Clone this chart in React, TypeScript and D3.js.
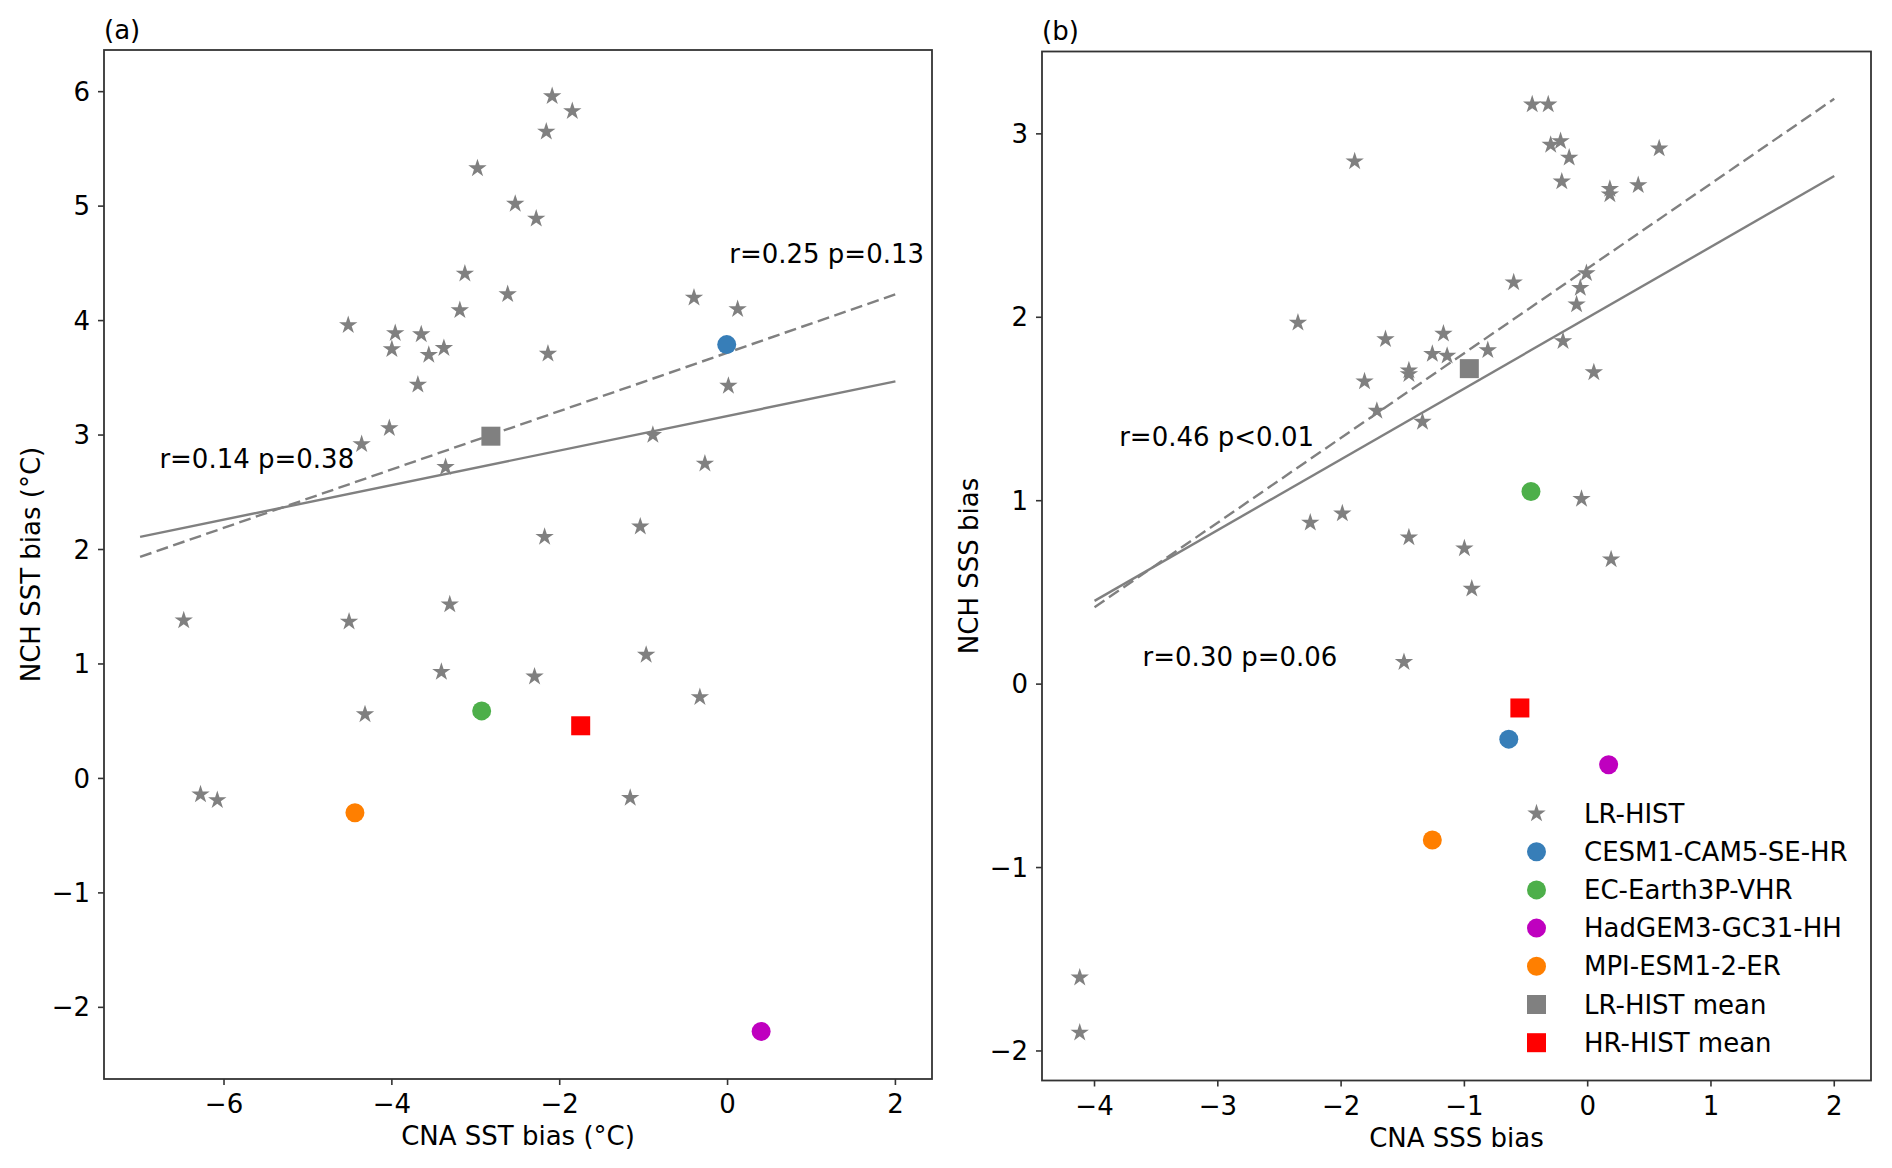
import React from 'react';
import * as d3 from 'd3';

// LR-HIST members, panel (a): CNA SST bias vs NCH SST bias
const sstLrX = [-2.09, -1.85, -2.16, -2.98, -2.53, -2.28, -3.13, -2.62, -3.19, -0.40, 0.12, -4.52, -3.96, -3.65, -4.00, -3.56, -3.38, -2.14, -3.69, 0.01, -4.03, -4.36, -0.89, -3.36, -0.27, -2.18, -1.04, -6.48, -4.51, -3.31, -3.41, -2.30, -0.97, -4.32, -0.33, -6.28, -6.08, -1.16];
const sstLrY = [5.96, 5.83, 5.65, 5.33, 5.02, 4.89, 4.41, 4.23, 4.09, 4.20, 4.10, 3.96, 3.89, 3.88, 3.75, 3.70, 3.76, 3.71, 3.44, 3.43, 3.06, 2.92, 3.00, 2.72, 2.75, 2.11, 2.20, 1.38, 1.37, 1.52, 0.93, 0.89, 1.08, 0.56, 0.71, -0.14, -0.19, -0.17];

// LR-HIST members, panel (b): CNA SSS bias vs NCH SSS bias
const sssLrX = [-0.45, -0.32, -1.89, -0.30, -0.22, -0.15, -0.21, 0.58, 0.18, 0.18, 0.41, -0.60, -0.01, -0.06, -0.09, -2.35, -0.20, -1.64, -1.17, -1.26, -1.14, -0.81, -1.45, -1.45, -1.81, 0.05, -1.71, -1.34, -2.25, -1.99, -1.45, -1.00, -0.94, -0.05, 0.19, -1.49, -4.12, -4.12];
const sssLrY = [3.16, 3.16, 2.85, 2.94, 2.96, 2.87, 2.74, 2.92, 2.70, 2.67, 2.72, 2.19, 2.24, 2.16, 2.07, 1.97, 1.87, 1.88, 1.91, 1.80, 1.79, 1.82, 1.71, 1.69, 1.65, 1.70, 1.49, 1.43, 0.88, 0.93, 0.80, 0.74, 0.52, 1.01, 0.68, 0.12, -1.60, -1.90];

// HR-HIST models
const hrModels = ["CESM1-CAM5-SE-HR", "EC-Earth3P-VHR", "HadGEM3-GC31-HH", "MPI-ESM1-2-ER"];
const hrColors = ["#377eb8", "#4daf4a", "#bf00bf", "#ff7f00"];
const sstHrX = [-0.01, -2.93, 0.40, -4.44];
const sstHrY = [3.79, 0.59, -2.21, -0.30];
const sssHrX = [-0.64, -0.46, 0.17, -1.26];
const sssHrY = [-0.30, 1.05, -0.44, -0.85];

// ensemble means [x, y]
const sstLrMean = [-2.82, 2.99];
const sstHrMean = [-1.75, 0.46];
const sssLrMean = [-0.96, 1.72];
const sssHrMean = [-0.55, -0.13];

// regression fits [intercept, slope]
const sstFitSolid = [3.167, 0.151];
const sstFitDashed = [3.72, 0.255];
const sstFitRange = [-7, 2];
const sssFitSolid = [1.998, 0.386];
const sssFitDashed = [2.267, 0.462];
const sssFitRange = [-4, 2];

// correlation notes
const sstNotes = ["r=0.14 p=0.38", "r=0.25 p=0.13"];
const sstNoteX = [-6.77, 0.02];
const sstNoteY = [2.71, 4.5];
const sssNotes = ["r=0.46 p<0.01", "r=0.30 p=0.06"];
const sssNoteX = [-3.8, -3.61];
const sssNoteY = [1.3, 0.1];

const sstXTicks = [-6, -4, -2, 0, 2];
const sstYTicks = [-2, -1, 0, 1, 2, 3, 4, 5, 6];
const sssXTicks = [-4, -3, -2, -1, 0, 1, 2];
const sssYTicks = [-2, -1, 0, 1, 2, 3];

const legendLabels = ["LR-HIST", ...hrModels, "LR-HIST mean", "HR-HIST mean"];

const FONT = "'DejaVu Sans', sans-serif";
const FS = 26;
const GREY = "#808080";
const starPath = d3.symbol(d3.symbolStar, 105)();
const fmt = d3.format("d");

type PanelProps = {
  box: { left: number; top: number; right: number; bottom: number };
  xDomain: number[];
  yDomain: number[];
  xTicks: number[];
  yTicks: number[];
  lrX: number[];
  lrY: number[];
  hrX: number[];
  hrY: number[];
  lrMean: number[];
  hrMean: number[];
  fitSolid: number[];
  fitDashed: number[];
  fitRange: number[];
  notes: string[];
  noteX: number[];
  noteY: number[];
  title: string;
  xLabel: string;
  yLabel: string;
  legend?: boolean;
};

const Marker = ({ kind, color, x, y }: { kind: string; color: string; x: number; y: number }) => {
  if (kind === "star") return <path d={starPath!} transform={`translate(${x},${y})`} fill={GREY} />;
  if (kind === "square") return <rect x={x - 9.5} y={y - 9.5} width={19} height={19} fill={color} />;
  return <circle cx={x} cy={y} r={9.5} fill={color} />;
};

const Panel = (p: PanelProps) => {
  const { box } = p;
  const x = d3.scaleLinear().domain(p.xDomain).range([box.left, box.right]);
  const y = d3.scaleLinear().domain(p.yDomain).range([box.bottom, box.top]);
  const fitLine = (f: number[]) =>
    d3.line<number>().x(v => x(v)).y(v => y(f[0] + f[1] * v))(p.fitRange)!;

  return (
    <g fontFamily={FONT} fontSize={FS}>
      <text x={box.left} y={box.top - 11.5}>{p.title}</text>

      <path d={fitLine(p.fitSolid)} stroke={GREY} strokeWidth={2.4} fill="none" />
      <path d={fitLine(p.fitDashed)} stroke={GREY} strokeWidth={2.4} fill="none" strokeDasharray="12,5.5" />

      {p.lrX.map((v, i) => (
        <Marker key={i} kind="star" color={GREY} x={x(v)} y={y(p.lrY[i])} />
      ))}
      {p.hrX.map((v, i) => (
        <Marker key={i} kind="circle" color={hrColors[i]} x={x(v)} y={y(p.hrY[i])} />
      ))}
      <Marker kind="square" color={GREY} x={x(p.lrMean[0])} y={y(p.lrMean[1])} />
      <Marker kind="square" color="#ff0000" x={x(p.hrMean[0])} y={y(p.hrMean[1])} />

      {p.notes.map((t, i) => (
        <text key={i} x={x(p.noteX[i])} y={y(p.noteY[i])} fill="#000">{t}</text>
      ))}

      <rect x={box.left} y={box.top} width={box.right - box.left} height={box.bottom - box.top}
        fill="none" stroke="#333" strokeWidth={1.8} />

      {p.xTicks.map(t => (
        <g key={t}>
          <line x1={x(t)} x2={x(t)} y1={box.bottom} y2={box.bottom + 6} stroke="#333" strokeWidth={1.6} />
          <text x={x(t)} y={box.bottom + 34} textAnchor="middle">{fmt(t)}</text>
        </g>
      ))}
      {p.yTicks.map(t => (
        <g key={t}>
          <line x1={box.left - 6} x2={box.left} y1={y(t)} y2={y(t)} stroke="#333" strokeWidth={1.6} />
          <text x={box.left - 14} y={y(t)} dy="0.35em" textAnchor="end">{fmt(t)}</text>
        </g>
      ))}

      <text x={(box.left + box.right) / 2} y={box.bottom + 66} textAnchor="middle">{p.xLabel}</text>
      <text transform={`translate(${box.left - 64},${(box.top + box.bottom) / 2}) rotate(-90)`} textAnchor="middle">
        {p.yLabel}
      </text>

      {p.legend && legendLabels.map((label, i) => {
        const ly = 813.5 + i * 38.2;
        const kind = i === 0 ? "star" : i <= hrModels.length ? "circle" : "square";
        const color = i === 0 ? GREY : i <= hrModels.length ? hrColors[i - 1] : (i === 5 ? GREY : "#ff0000");
        return (
          <g key={label}>
            <Marker kind={kind} color={color} x={1536.5} y={ly} />
            <text x={1584} y={ly} dy="0.35em">{label}</text>
          </g>
        );
      })}
    </g>
  );
};

export default function App() {
  return (
    <svg width={1892} height={1168} style={{ position: 'absolute', left: 0, top: 0, display: 'block', background: '#fff' }}>
      <Panel
        box={{ left: 104, top: 50, right: 932, bottom: 1079 }}
        xDomain={[-7.43, 2.436]} yDomain={[-2.626, 6.364]}
        xTicks={sstXTicks} yTicks={sstYTicks}
        lrX={sstLrX} lrY={sstLrY} hrX={sstHrX} hrY={sstHrY}
        lrMean={sstLrMean} hrMean={sstHrMean}
        fitSolid={sstFitSolid} fitDashed={sstFitDashed} fitRange={sstFitRange}
        notes={sstNotes} noteX={sstNoteX} noteY={sstNoteY}
        title="(a)" xLabel="CNA SST bias (°C)" yLabel="NCH SST bias (°C)"
      />
      <Panel
        box={{ left: 1042, top: 51.5, right: 1871, bottom: 1080.5 }}
        xDomain={[-4.426, 2.298]} yDomain={[-2.161, 3.449]}
        xTicks={sssXTicks} yTicks={sssYTicks}
        lrX={sssLrX} lrY={sssLrY} hrX={sssHrX} hrY={sssHrY}
        lrMean={sssLrMean} hrMean={sssHrMean}
        fitSolid={sssFitSolid} fitDashed={sssFitDashed} fitRange={sssFitRange}
        notes={sssNotes} noteX={sssNoteX} noteY={sssNoteY}
        title="(b)" xLabel="CNA SSS bias" yLabel="NCH SSS bias"
        legend
      />
    </svg>
  );
}
